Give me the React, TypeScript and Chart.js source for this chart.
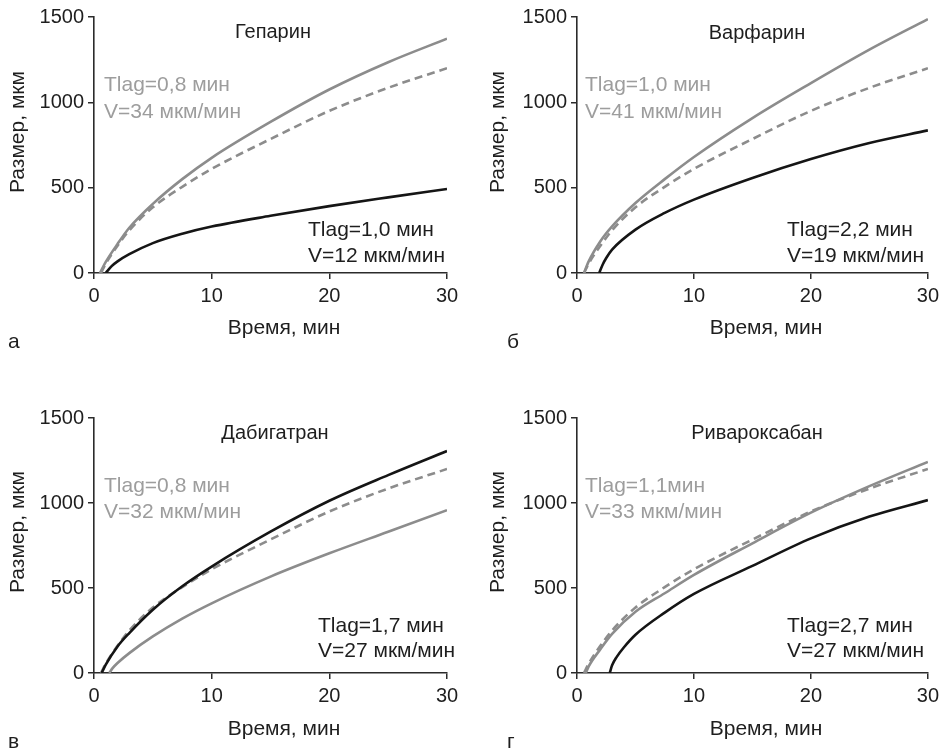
import React, { useEffect, useRef } from "react";
import { Chart, registerables } from "chart.js";

Chart.register(...registerables);

// ---------- data ----------
// dashed control curve (same in all panels)
const controlT = [0.6, 1, 2, 3, 5, 7.5, 10, 15, 20, 25, 30];
const controlSize = [0, 55, 160, 250, 385, 505, 610, 785, 950, 1085, 1200];

// а — Гепарин
const heparinGrayT = [0.5, 1, 2, 3, 5, 7.5, 10, 15, 20, 25, 30];
const heparinGraySize = [0, 65, 170, 265, 405, 550, 675, 885, 1075, 1235, 1373];
const heparinBlackT = [1.0, 1.5, 2, 3, 5, 7.5, 10, 15, 20, 25, 30];
const heparinBlackSize = [0, 40, 68, 110, 175, 230, 272, 335, 392, 443, 492];

// б — Варфарин
const warfarinGrayT = [0.6, 1, 2, 3, 5, 7.5, 10, 15, 20, 25, 30];
const warfarinGraySize = [0, 68, 186, 273, 410, 550, 680, 908, 1113, 1309, 1488];
const warfarinBlackT = [1.9, 2.2, 2.5, 3, 5, 7.5, 10, 15, 20, 25, 30];
const warfarinBlackSize = [0, 50, 88, 137, 254, 352, 430, 557, 668, 762, 836];

// в — Дабигатран
const dabigatranBlackT = [0.65, 1, 2, 3, 5, 7.5, 10, 15, 20, 25, 30];
const dabigatranBlackSize = [0, 49, 156, 235, 372, 510, 626, 831, 1013, 1164, 1306];
const dabigatranGrayT = [1.3, 1.6, 2, 3, 5, 7.5, 10, 15, 20, 25, 30];
const dabigatranGraySize = [0, 30, 59, 117, 215, 320, 410, 567, 704, 831, 958];

// г — Ривароксабан
const rivaroxabanGrayT = [0.75, 1, 2, 3, 5, 7.5, 10, 15, 20, 25, 30];
const rivaroxabanGraySize = [0, 39, 140, 230, 360, 469, 577, 763, 943, 1099, 1242];
const rivaroxabanBlackT = [2.8, 3.0, 3.4, 4, 5, 7.5, 10, 15, 20, 25, 30];
const rivaroxabanBlackSize = [0, 45, 95, 150, 225, 355, 465, 630, 792, 920, 1017];

// axis ticks
const xTicks = [0, 10, 20, 30];
const yTicks = [0, 500, 1000, 1500];

const xAxisTitle = "Время, мин";
const yAxisTitle = "Размер, мкм";

// ---------- styles ----------
const FONT = "'Liberation Sans', Arial, Helvetica, sans-serif";
const AXIS_COLOR = "#2b2b2b";
const TEXT_COLOR = "#1e1e1e";
const GRAY_LINE = "#8c8c8c";
const GRAY_TEXT = "#9d9d9d";
const BLACK_LINE = "#151515";

type PanelDef = {
  left: number;
  top: number;
  w: number;
  h: number;
  area: { l: number; r: number; t: number; b: number };
  title: string;
  titleX: number;
  titleY: number;
  gray: string[];
  grayX: number;
  grayY: number[];
  black: string[];
  blackX: number;
  blackY: number[];
  yTitlePos: number[];
  xTitlePos: number[];
  letter: string;
  letterPos: number[];
  grayT: number[];
  graySize: number[];
  blackT: number[];
  blackSize: number[];
};

const panels: PanelDef[] = [
  {
    left: 0, top: 0, w: 472, h: 400,
    area: { l: 94, r: 447, t: 17, b: 273 },
    title: "Гепарин", titleX: 273, titleY: 38,
    gray: ["Tlag=0,8 мин", "V=34 мкм/мин"], grayX: 104, grayY: [91, 118],
    black: ["Tlag=1,0 мин", "V=12 мкм/мин"], blackX: 308, blackY: [236, 262],
    yTitlePos: [18, 132], xTitlePos: [284, 328],
    letter: "а", letterPos: [8, 348],
    grayT: heparinGrayT, graySize: heparinGraySize,
    blackT: heparinBlackT, blackSize: heparinBlackSize,
  },
  {
    left: 472, top: 0, w: 472, h: 400,
    area: { l: 105, r: 457, t: 17, b: 273 },
    title: "Варфарин", titleX: 285, titleY: 39,
    gray: ["Tlag=1,0 мин", "V=41 мкм/мин"], grayX: 113, grayY: [91, 118],
    black: ["Tlag=2,2 мин", "V=19 мкм/мин"], blackX: 315, blackY: [236, 262],
    yTitlePos: [26, 132], xTitlePos: [294, 328],
    letter: "б", letterPos: [35, 348],
    grayT: warfarinGrayT, graySize: warfarinGraySize,
    blackT: warfarinBlackT, blackSize: warfarinBlackSize,
  },
  {
    left: 0, top: 400, w: 472, h: 351,
    area: { l: 94, r: 447, t: 18, b: 273 },
    title: "Дабигатран", titleX: 275, titleY: 39,
    gray: ["Tlag=0,8 мин", "V=32 мкм/мин"], grayX: 104, grayY: [92, 118],
    black: ["Tlag=1,7 мин", "V=27 мкм/мин"], blackX: 318, blackY: [232, 257],
    yTitlePos: [18, 132], xTitlePos: [284, 329],
    letter: "в", letterPos: [8, 348],
    grayT: dabigatranGrayT, graySize: dabigatranGraySize,
    blackT: dabigatranBlackT, blackSize: dabigatranBlackSize,
  },
  {
    left: 472, top: 400, w: 472, h: 351,
    area: { l: 105, r: 457, t: 18, b: 273 },
    title: "Ривароксабан", titleX: 285, titleY: 39,
    gray: ["Tlag=1,1мин", "V=33 мкм/мин"], grayX: 113, grayY: [92, 118],
    black: ["Tlag=2,7 мин", "V=27 мкм/мин"], blackX: 315, blackY: [232, 257],
    yTitlePos: [26, 132], xTitlePos: [294, 329],
    letter: "г", letterPos: [35, 348],
    grayT: rivaroxabanGrayT, graySize: rivaroxabanGraySize,
    blackT: rivaroxabanBlackT, blackSize: rivaroxabanBlackSize,
  },
];

const toPoints = (t: number[], s: number[]) => t.map((x, i) => ({ x, y: s[i] }));

function Panel({ p }: { p: PanelDef }) {
  const ref = useRef<HTMLCanvasElement | null>(null);

  useEffect(() => {
    if (!ref.current) return;
    const textPlugin = {
      id: "panelText",
      afterDraw(chart: any) {
        const ctx = chart.ctx as CanvasRenderingContext2D;
        ctx.save();
        ctx.textBaseline = "alphabetic";
        // panel title
        ctx.font = `20px ${FONT}`;
        ctx.fillStyle = TEXT_COLOR;
        ctx.textAlign = "center";
        ctx.fillText(p.title, p.titleX, p.titleY);
        // gray annotation
        ctx.font = `21px ${FONT}`;
        ctx.textAlign = "left";
        ctx.fillStyle = GRAY_TEXT;
        p.gray.forEach((s, i) => ctx.fillText(s, p.grayX, p.grayY[i]));
        // black annotation
        ctx.fillStyle = TEXT_COLOR;
        p.black.forEach((s, i) => ctx.fillText(s, p.blackX, p.blackY[i]));
        // x axis title
        ctx.textAlign = "center";
        ctx.textBaseline = "middle";
        ctx.fillText(xAxisTitle, p.xTitlePos[0], p.xTitlePos[1]);
        // y axis title
        ctx.save();
        ctx.translate(p.yTitlePos[0], p.yTitlePos[1]);
        ctx.rotate(-Math.PI / 2);
        ctx.fillText(yAxisTitle, 0, 0);
        ctx.restore();
        // panel letter
        ctx.textAlign = "left";
        ctx.textBaseline = "alphabetic";
        ctx.fillText(p.letter, p.letterPos[0], p.letterPos[1]);
        ctx.restore();
      },
    };

    const lineBase = {
      pointRadius: 0,
      pointHoverRadius: 0,
      borderWidth: 2.6,
      fill: false,
      cubicInterpolationMode: "monotone" as const,
    };

    const axisCommon = {
      type: "linear" as const,
      ticks: {
        color: TEXT_COLOR,
        font: { size: 20, family: FONT },
        maxRotation: 0,
        callback: (v: any) => String(v),
      },
      grid: {
        drawOnChartArea: false,
        drawTicks: true,
        tickLength: 6,
        color: AXIS_COLOR,
        lineWidth: 1.5,
      },
      border: { display: true, color: AXIS_COLOR, width: 1.6 },
    };

    const chart = new Chart(ref.current, {
      type: "line",
      data: {
        datasets: [
          {
            ...lineBase,
            label: "black",
            data: toPoints(p.blackT, p.blackSize),
            borderColor: BLACK_LINE,
          },
          {
            ...lineBase,
            label: "gray",
            data: toPoints(p.grayT, p.graySize),
            borderColor: GRAY_LINE,
          },
          {
            ...lineBase,
            label: "control",
            data: toPoints(controlT, controlSize),
            borderColor: GRAY_LINE,
            borderDash: [8, 5],
          },
        ],
      },
      options: {
        animation: false,
        responsive: false,
        devicePixelRatio: 1,
        events: [],
        layout: {
          padding: { left: 0, top: p.area.t, right: p.w - p.area.r, bottom: 0 },
        },
        plugins: {
          legend: { display: false },
          tooltip: { enabled: false },
          title: { display: false },
        },
        scales: {
          x: {
            ...axisCommon,
            min: xTicks[0],
            max: xTicks[xTicks.length - 1],
            afterBuildTicks: (s: any) => {
              s.ticks = xTicks.map((v) => ({ value: v }));
            },
            afterFit: (s: any) => {
              s.height = p.h - p.area.b;
            },
            ticks: { ...axisCommon.ticks, padding: 5 },
          },
          y: {
            ...axisCommon,
            min: yTicks[0],
            max: yTicks[yTicks.length - 1],
            afterBuildTicks: (s: any) => {
              s.ticks = yTicks.map((v) => ({ value: v }));
            },
            afterFit: (s: any) => {
              s.width = p.area.l;
            },
            ticks: { ...axisCommon.ticks, padding: 4 },
          },
        },
      },
      plugins: [textPlugin],
    });
    return () => chart.destroy();
  }, [p]);

  return (
    <canvas
      ref={ref}
      width={p.w}
      height={p.h}
      style={{
        position: "absolute",
        left: p.left,
        top: p.top,
        width: p.w,
        height: p.h,
      }}
    />
  );
}

export default function App() {
  return (
    <div
      style={{
        position: "absolute",
        left: 0,
        top: 0,
        width: 944,
        height: 751,
        overflow: "hidden",
        background: "#ffffff",
      }}
    >
      {panels.map((p, i) => (
        <Panel key={i} p={p} />
      ))}
    </div>
  );
}
